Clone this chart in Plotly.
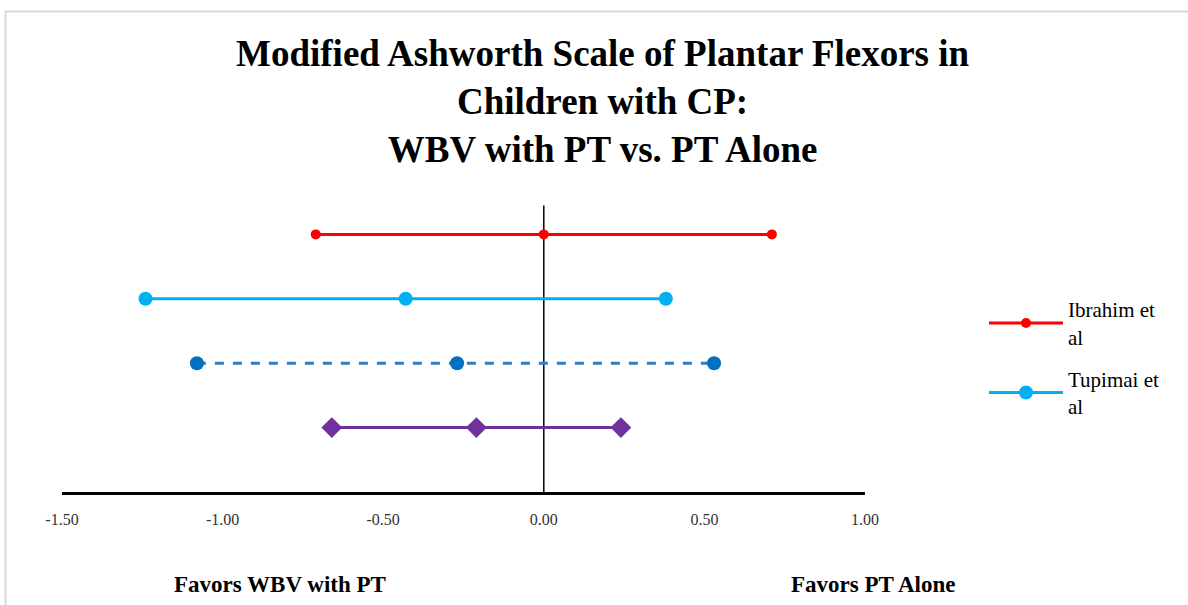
import plotly.graph_objects as go

# Data (effect size, lower/point/upper) per study row
ibrahim_x = [-0.71, 0.00, 0.71]
ibrahim_y = [4, 4, 4]
tupimai_x = [-1.24, -0.43, 0.38]
tupimai_y = [3, 3, 3]
pooled_dashed_x = [-1.08, -0.27, 0.53]
pooled_dashed_y = [2, 2, 2]
pooled_x = [-0.66, -0.21, 0.24]
pooled_y = [1, 1, 1]
ref_line_x = [0, 0]
ref_line_y = [0, 4.45]
tick_vals = [-1.5, -1.0, -0.5, 0.0, 0.5, 1.0]
tick_text = ["-1.50", "-1.00", "-0.50", "0.00", "0.50", "1.00"]

SERIF = "Liberation Serif, Times New Roman, serif"

fig = go.Figure()

fig.add_trace(go.Scatter(x=ref_line_x, y=ref_line_y, mode="lines",
                         line=dict(color="black", width=1.5),
                         showlegend=False, hoverinfo="skip"))

fig.add_trace(go.Scatter(x=ibrahim_x, y=ibrahim_y, mode="lines+markers",
                         name="Ibrahim et<br>al", legendgroup="g1",
                         line=dict(color="#ff0000", width=3),
                         marker=dict(color="#ff0000", size=10, symbol="circle")))

fig.add_trace(go.Scatter(x=tupimai_x, y=tupimai_y, mode="lines+markers",
                         name="Tupimai et<br>al", legendgroup="g2",
                         line=dict(color="#00b0f0", width=3),
                         marker=dict(color="#00b0f0", size=14, symbol="circle")))

fig.add_trace(go.Scatter(x=pooled_dashed_x, y=pooled_dashed_y, mode="lines+markers",
                         showlegend=False, legendgroup="g3",
                         line=dict(color="#2e7dc6", width=3, dash="dash"),
                         marker=dict(color="#0070c0", size=14, symbol="circle")))

fig.add_trace(go.Scatter(x=pooled_x, y=pooled_y, mode="lines+markers",
                         showlegend=False, legendgroup="g4",
                         line=dict(color="#7030a0", width=3),
                         marker=dict(color="#7030a0", size=16, symbol="diamond")))

fig.update_layout(
    width=1188, height=605,
    margin=dict(l=62, r=323, t=170, b=113),
    paper_bgcolor="white", plot_bgcolor="white",
    font=dict(family=SERIF, color="black"),
    xaxis=dict(range=[-1.5, 1.0], tickvals=tick_vals, ticktext=tick_text,
               showgrid=False, zeroline=False, showline=True,
               linecolor="black", linewidth=2.5, ticks="",
               ticklabelstandoff=11,
               tickfont=dict(family=SERIF, size=16, color="#333333")),
    yaxis=dict(range=[0, 5], showgrid=False, zeroline=False,
               showline=False, showticklabels=False, ticks=""),
    legend=dict(x=(984-62)/803, y=(492.5-289)/323, xanchor="left", yanchor="top",
                font=dict(family=SERIF, size=21, color="black"),
                traceorder="grouped",
                itemwidth=74, tracegroupgap=12, bgcolor="rgba(0,0,0,0)"),
    annotations=[
        dict(text="<b>Modified Ashworth Scale of Plantar Flexors in<br>Children with CP:<br>WBV with PT vs. PT Alone</b>",
             xref="paper", yref="paper",
             x=(603-62)/803, y=(492.5-101)/323, xanchor="center", yanchor="middle",
             showarrow=False, font=dict(family=SERIF, size=37, color="black")),
        dict(text="<b>Favors WBV with PT</b>", xref="paper", yref="paper",
             x=(280-62)/803, y=(492.5-585)/323, xanchor="center", yanchor="middle",
             showarrow=False, font=dict(family=SERIF, size=23, color="black")),
        dict(text="<b>Favors PT Alone</b>", xref="paper", yref="paper",
             x=(873-62)/803, y=(492.5-585)/323, xanchor="center", yanchor="middle",
             showarrow=False, font=dict(family=SERIF, size=23, color="black")),
    ],
    shapes=[
        dict(type="rect", xref="paper", yref="paper",
             x0=(5.5-62)/803, x1=(1210-62)/803,
             y0=(492.5-640)/323, y1=(492.5-10.5)/323,
             line=dict(color="#d9d9d9", width=2), fillcolor="rgba(0,0,0,0)", layer="below"),
    ],
)

fig.write_html("out.html")
